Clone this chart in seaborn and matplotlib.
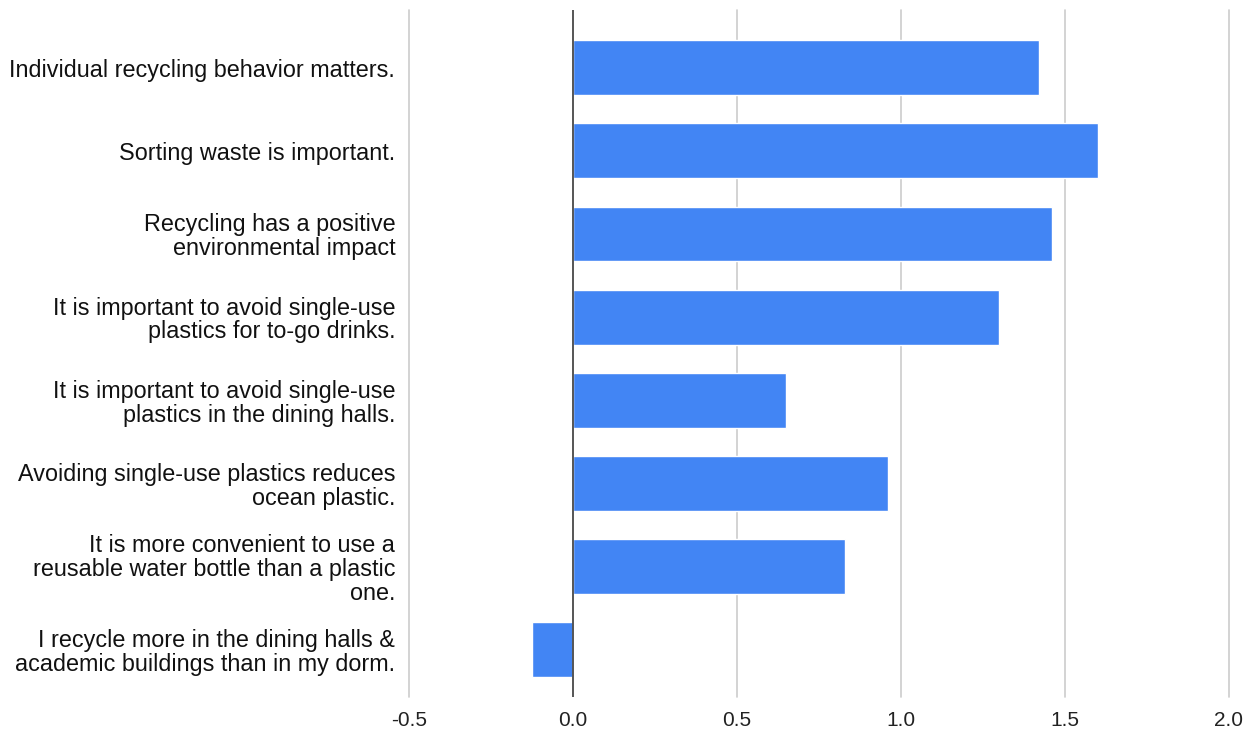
import numpy as np
import pandas as pd
import seaborn as sns
import matplotlib.pyplot as plt

statements = [
    "Individual recycling behavior matters.",
    "Sorting waste is important.",
    "Recycling has a positive\nenvironmental impact",
    "It is important to avoid single-use\nplastics for to-go drinks.",
    "It is important to avoid single-use\nplastics in the dining halls.",
    "Avoiding single-use plastics reduces\nocean plastic.",
    "It is more convenient to use a\nreusable water bottle than a plastic\none.",
    "I recycle more in the dining halls &\nacademic buildings than in my dorm.",
]
scores = [1.42, 1.60, 1.46, 1.30, 0.65, 0.96, 0.83, -0.125]
xticks = [-0.5, 0.0, 0.5, 1.0, 1.5, 2.0]

df = pd.DataFrame({"statement": statements, "score": scores})

sns.set_style("white")
plt.rcParams['font.family'] = ['Liberation Sans', 'DejaVu Sans']

fig = plt.figure(figsize=(12.55, 7.36), dpi=100)
ax = fig.add_axes([0.326, 0.053, 0.653, 0.933])

sns.barplot(data=df, x="score", y="statement", orient="h", color="#4285F4",
            saturation=1, width=0.66, ax=ax, zorder=3)

ax.set_xlim(-0.5, 2.0)
ax.set_ylim(7.57, -0.69)
ax.set_xticks(xticks)
ax.set_xticklabels([f"{t:.1f}" for t in xticks], fontsize=15, color="#222222")
ax.tick_params(axis="y", labelsize=16.8, colors="#111111", length=0, pad=10)
ax.tick_params(axis="x", length=0, pad=10)
for lab in ax.get_yticklabels():
    lab.set_horizontalalignment("right")
    lab.set_linespacing(1.05)

for t in xticks:
    if t == 0:
        ax.axvline(t, color="#555555", lw=1.4, zorder=4)
    else:
        ax.axvline(t, color="#cccccc", lw=1.2, zorder=1, clip_on=False)

sns.despine(ax=ax, left=True, bottom=True)
ax.set_xlabel("")
ax.set_ylabel("")

fig.savefig("out.png", dpi=100)
